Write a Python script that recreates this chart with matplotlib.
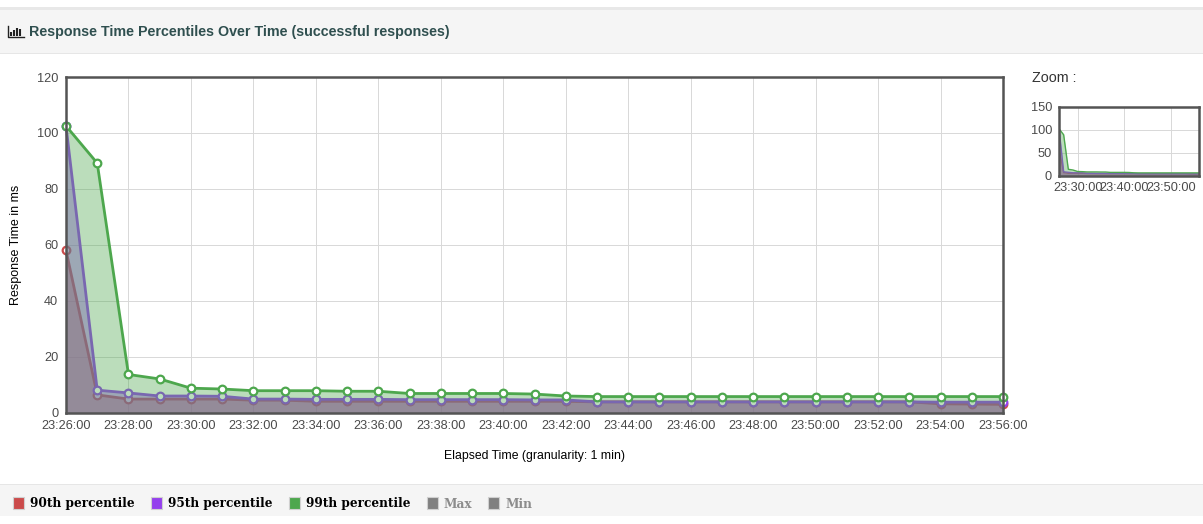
import matplotlib
matplotlib.use('Agg')
import matplotlib.pyplot as plt
import matplotlib.patches as mpatches

W, H = 1203, 524

# minutes after 23:26:00, one point per minute
minutes = list(range(31))
p90 = [58, 6.3, 4.8, 4.8, 4.8, 4.8, 4.4, 4.4, 4, 4, 4, 4, 4, 4, 4, 4, 4, 3.8, 3.8, 3.8, 3.8, 3.8, 3.8, 3.8, 3.8, 3.8, 3.8, 3.8, 3.1, 3, 2.9]
p95 = [102.5, 8, 7, 5.9, 5.9, 5.8, 4.8, 4.8, 4.7, 4.7, 4.7, 4.6, 4.6, 4.6, 4.6, 4.5, 4.5, 3.8, 3.8, 3.8, 3.8, 3.8, 3.8, 3.8, 3.8, 3.8, 3.8, 3.8, 3.7, 3.7, 3.7]
p99 = [102.5, 89.2, 13.6, 12, 8.7, 8.4, 7.8, 7.8, 7.8, 7.6, 7.6, 6.8, 6.8, 6.8, 6.8, 6.6, 5.9, 5.7, 5.7, 5.7, 5.7, 5.7, 5.7, 5.7, 5.7, 5.7, 5.7, 5.7, 5.7, 5.7, 5.7]

main_ticks = [0, 2, 4, 6, 8, 10, 12, 14, 16, 18, 20, 22, 24, 26, 28, 30]
main_labels = ['23:26:00', '23:28:00', '23:30:00', '23:32:00', '23:34:00', '23:36:00', '23:38:00', '23:40:00',
               '23:42:00', '23:44:00', '23:46:00', '23:48:00', '23:50:00', '23:52:00', '23:54:00', '23:56:00']
main_yticks = [0, 20, 40, 60, 80, 100, 120]
zoom_ticks = [4, 14, 24]
zoom_labels = ['23:30:00', '23:40:00', '23:50:00']
zoom_yticks = [0, 50, 100, 150]

series_names = ['90th percentile', '95th percentile', '99th percentile']
series_colors = ['#cb4b4b', '#9440ed', '#4da74d']
series_alpha = [0.45, 0.45, 0.38]
legend_off = ['Max', 'Min']

plt.rcParams['font.family'] = ['Liberation Sans', 'DejaVu Sans']
BORDER = '#545454'


def box(x0, y0, x1, y1):
    # pixel box (top-left origin) to figure fractions
    return [x0 / W, 1 - y1 / H, (x1 - x0) / W, (y1 - y0) / H]


def style_axes(ax, xt, xl, yt, size, pad):
    ax.set_xlim(0, 30)
    ax.set_xticks(xt)
    ax.set_xticklabels(xl, fontsize=size, color='#4a4a4a')
    ax.set_yticks(yt)
    ax.set_yticklabels([str(v) for v in yt], fontsize=size, color='#4a4a4a')
    ax.set_ylim(0, yt[-1])
    ax.tick_params(length=0, pad=pad)
    ax.grid(True, color='#d8d8d8', linewidth=0.7)
    ax.set_axisbelow(True)
    for s in ax.spines.values():
        s.set_color(BORDER)
        s.set_linewidth(1.8)
        s.set_zorder(20)


fig = plt.figure(figsize=(W / 100, H / 100), dpi=100, facecolor='white')

# page bands behind the chart
bg = fig.add_axes([0, 0, 1, 1], zorder=0)
bg.set_xlim(0, W)
bg.set_ylim(H, 0)
bg.axis('off')
bg.add_patch(mpatches.Rectangle((0, 7), W, 3, color='#e8e8e8', lw=0))
bg.add_patch(mpatches.Rectangle((0, 10), W, 43, color='#f5f5f5', lw=0))
bg.add_patch(mpatches.Rectangle((0, 53), W, 1, color='#e6e6e6', lw=0))
bg.add_patch(mpatches.Rectangle((0, 485), W, 31, color='#f5f5f5', lw=0))
bg.add_patch(mpatches.Rectangle((0, 484), W, 1, color='#e6e6e6', lw=0))

# title icon, small bar chart
bg.plot([8, 8, 24], [26, 37, 37], color='#222222', lw=1)
for bx, bt in zip([11, 14, 17, 20], [32, 30, 28, 29]):
    bg.plot([bx, bx], [bt, 36], color='#222222', lw=1.5, solid_capstyle='butt')
bg.text(29, 32, 'Response Time Percentiles Over Time (successful responses)', fontsize=10.3,
        fontweight='bold', color='#2f4f4f', va='center', ha='left')

# main chart
ax = fig.add_axes(box(66, 77, 1003, 412.5), zorder=2)
style_axes(ax, main_ticks, main_labels, main_yticks, 9.2, 5.5)
z = 3
for vals, col, al in zip([p90, p95, p99], series_colors, series_alpha):
    ax.fill_between(minutes, vals, 0, color=col, alpha=al, lw=0, zorder=z)
    ax.plot(minutes, vals, color=col, lw=2, zorder=z + 1, clip_on=False)
    ax.plot(minutes, vals, linestyle='none', marker='o', ms=5.5, mfc='white', mec=col, mew=1.6,
            zorder=z + 2, clip_on=False)
    z += 3
ax.set_xlabel('Elapsed Time (granularity: 1 min)', fontsize=8.85, color='black', labelpad=13)
ax.set_ylabel('Response Time in ms', fontsize=9, color='black', labelpad=11)

# overview chart on the right
bg.text(1032, 77.5, 'Zoom :', fontsize=10.3, color='#333333', va='center', ha='left')
ov = fig.add_axes(box(1059, 107, 1199, 175.5), zorder=2)
style_axes(ov, zoom_ticks, zoom_labels, zoom_yticks, 9.2, 5)
z = 3
for vals, col, al in zip([p90, p95, p99], series_colors, series_alpha):
    ov.fill_between(minutes, vals, 0, color=col, alpha=al, lw=0, zorder=z)
    ov.plot(minutes, vals, color=col, lw=1, zorder=z + 1)
    z += 2

# legend strip
lx = [13, 151, 289]
for x0, name, col in zip(lx, series_names, series_colors):
    bg.add_patch(mpatches.Rectangle((x0, 497), 11, 12, fc=col, ec='#d0d0d0', lw=0.8))
    bg.text(x0 + 17, 503, name, family='DejaVu Serif', fontweight='bold', fontsize=8.7, color='black',
            va='center', ha='left')
for x0, name in zip([427, 488], legend_off):
    bg.add_patch(mpatches.Rectangle((x0, 497), 11, 12, fc='#808080', ec='#d0d0d0', lw=0.8))
    bg.text(x0 + 17, 504, name, family='DejaVu Serif', fontweight='bold', fontsize=8.7, color='#8c8c8c',
            va='center', ha='left')

fig.savefig('out.png', dpi=100)
